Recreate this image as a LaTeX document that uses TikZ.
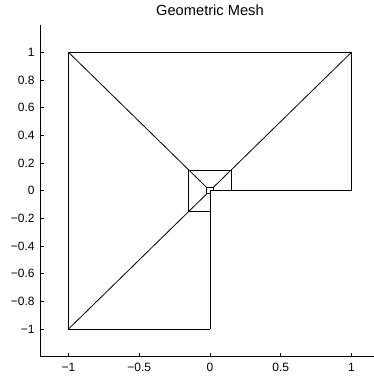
\documentclass[tikz,border=0pt]{standalone}
\usepackage{fontspec}
\setmainfont{Liberation Sans}
\usepackage{tikz}

\tikzset{
  meshline/.style={line width=0.6pt, black},
  axisline/.style={line width=0.6pt, black},
  ticklabel/.style={inner sep=0.75pt, font=\fontsize{9}{10}\selectfont},
}

\begin{document}
\begin{tikzpicture}[x=106.125pt,y=103.8pt]
\useasboundingbox (-1.484,-1.339) rectangle (1.159,1.378);
%Axes
\draw [axisline] (-1.2,1.2) -- (-1.2,-1.2) -- (1.159,-1.2) ;
%Ticks on x
\foreach \t/\lab in {-1/{−1},-0.5/{−0.5},0/0,0.5/0.5,1/1}{
  \draw [axisline] (\t,-1.2) -- ++(0,0.028) ;
  \node (xl\t) [ticklabel, anchor=north] at (\t,-1.235) {\lab};
}
%Ticks on y
\foreach \t/\lab in {-1/{−1},-0.8/{−0.8},-0.6/{−0.6},-0.4/{−0.4},-0.2/{−0.2},0/0,0.2/0.2,0.4/0.4,0.6/0.6,0.8/0.8,1/1}{
  \draw [axisline] (-1.2,\t) -- ++(0.028,0) ;
  \node (yl\t) [ticklabel, anchor=east] at (-1.23,\t) {\lab};
}
% Text Node
\node (title) [inner sep=0.75pt, font=\fontsize{11}{13}\selectfont] at (0,1.305) {Geometric Mesh};
%Mesh: L-shaped outlines, graded towards the corner at the origin
\foreach \s/\r in {1/0.15,0.15/0.0225}{
  \draw [meshline] (0,-\s) -- (-\s,-\s) -- (-\s,\s) -- (\s,\s) -- (\s,0) ;
  \draw [meshline] (-\s,\s) -- (-\r,\r) ;
  \draw [meshline] (\s,\s) -- (\r,\r) ;
  \draw [meshline] (-\s,-\s) -- (-\r,-\r) ;
  \draw [meshline] (\s,0) -- (\r,0) ;
  \draw [meshline] (0,-\s) -- (0,-\r) ;
}
%Innermost element
\draw [meshline] (0,-0.0225) -- (-0.0225,-0.0225) -- (-0.0225,0.0225) -- (0.0225,0.0225) -- (0.0225,0) -- (0,0) -- cycle ;
\end{tikzpicture}
\end{document}
